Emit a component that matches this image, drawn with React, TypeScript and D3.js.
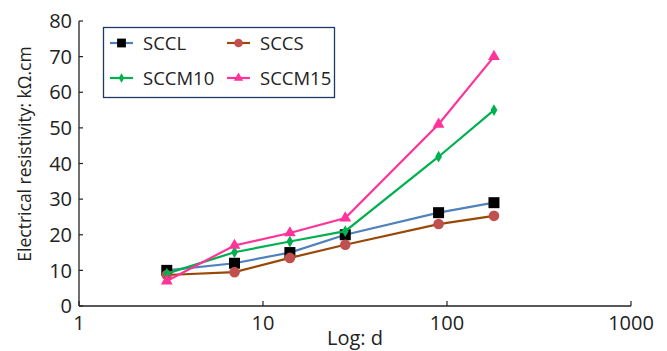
import React from "react";
import * as d3 from "d3";

const days = [3, 7, 14, 28, 90, 180];
const sccl = [10, 12, 15, 20, 26.2, 29];
const sccs = [8.7, 9.5, 13.5, 17.2, 23, 25.3];
const sccm10 = [9.1, 15.1, 18.1, 21, 41.9, 55];
const sccm15 = [7, 17, 20.5, 24.7, 51, 70];

const xTicks = [1, 10, 100, 1000];
const yTicks = [0, 10, 20, 30, 40, 50, 60, 70, 80];

type Marker = "square" | "circle" | "diamond" | "triangle";
const seriesList: { name: string; values: number[]; line: string; fill: string; marker: Marker }[] = [
  { name: "SCCL", values: sccl, line: "#4F81BD", fill: "#000000", marker: "square" },
  { name: "SCCS", values: sccs, line: "#984807", fill: "#C0504D", marker: "circle" },
  { name: "SCCM10", values: sccm10, line: "#00B050", fill: "#00B050", marker: "diamond" },
  { name: "SCCM15", values: sccm15, line: "#FF3399", fill: "#FF3399", marker: "triangle" },
];

const W = 667;
const H = 351;
const margin = { left: 79, right: 36, top: 21, bottom: 45 };
const FONT = "'Open Sans', 'Noto Sans', sans-serif";

const x = d3.scaleLog().domain([1, 1000]).range([margin.left, W - margin.right]);
const y = d3.scaleLinear().domain([0, 80]).range([H - margin.bottom, margin.top]);

function MarkerShape({ kind, cx, cy, fill, small }: { kind: Marker; cx: number; cy: number; fill: string; small?: boolean }) {
  const k = small ? 0.8 : 1;
  if (kind === "square") {
    const s = 11 * k;
    return <rect x={cx - s / 2} y={cy - s / 2} width={s} height={s} fill={fill} />;
  }
  if (kind === "circle") return <circle cx={cx} cy={cy} r={5.3 * k} fill={fill} />;
  if (kind === "diamond") {
    const p = d3.symbol(d3.symbolDiamond, 40 * k * k)();
    return <path d={p || ""} transform={`translate(${cx},${cy})`} fill={fill} />;
  }
  const t = d3.symbol(d3.symbolTriangle, 60 * k * k)();
  return <path d={t || ""} transform={`translate(${cx},${cy})`} fill={fill} />;
}

export default function App() {
  const line = d3
    .line<number>()
    .x((_, i) => x(days[i]))
    .y((v) => y(v));
  const x0 = margin.left;
  const y0 = H - margin.bottom;

  const legendPos = [
    { lx: 110, ly: 43 },
    { lx: 227, ly: 43 },
    { lx: 110, ly: 78 },
    { lx: 227, ly: 78 },
  ];

  return (
    <svg
      width={W}
      height={H}
      style={{ position: "absolute", left: 0, top: 0, background: "#fff" }}
      fontFamily={FONT}
    >
      {/* axes */}
      <line x1={x0} x2={x0} y1={y(80)} y2={y0} stroke="#222" strokeWidth={1.3} />
      <line x1={x0} x2={x(1000)} y1={y0} y2={y0} stroke="#222" strokeWidth={1.3} />
      {yTicks.map((t) => (
        <g key={`y${t}`}>
          <line x1={x0} x2={x0 + 4} y1={y(t)} y2={y(t)} stroke="#222" strokeWidth={1.2} />
          <text x={x0 - 7} y={y(t)} dy="0.36em" textAnchor="end" fontSize={20} fill="#222">
            {t}
          </text>
        </g>
      ))}
      {xTicks.map((t) => (
        <g key={`x${t}`}>
          <line x1={x(t)} x2={x(t)} y1={y0} y2={y0 - 5} stroke="#222" strokeWidth={1.2} />
          <text x={x(t)} y={y0 + 24} textAnchor="middle" fontSize={20} fill="#222">
            {t}
          </text>
        </g>
      ))}
      <text x={355} y={345} textAnchor="middle" fontSize={20} fill="#222">
        Log: d
      </text>
      <text
        transform={`translate(31,${154}) rotate(-90)`}
        textAnchor="middle"
        fontSize={17.5}
        fill="#222"
      >
        Electrical resistivity: kΩ.cm
      </text>

      {/* series */}
      {seriesList.map((s) => (
        <g key={s.name}>
          <path d={line(s.values) || ""} fill="none" stroke={s.line} strokeWidth={2.2} />
          {s.values.map((v, i) => (
            <MarkerShape key={i} kind={s.marker} cx={x(days[i])} cy={y(v)} fill={s.fill} />
          ))}
        </g>
      ))}

      {/* legend */}
      <rect x={103.5} y={27.5} width={231} height={70} fill="#fff" stroke="#1F3864" strokeWidth={1.3} />
      {seriesList.map((s, i) => {
        const { lx, ly } = legendPos[i];
        return (
          <g key={`lg${s.name}`}>
            <line x1={lx} x2={lx + 23} y1={ly} y2={ly} stroke={s.line} strokeWidth={2.2} />
            <MarkerShape kind={s.marker} cx={lx + 11.5} cy={ly} fill={s.fill} small />
            <text x={lx + 33} y={ly} dy="0.36em" fontSize={18.5} fill="#222">
              {s.name}
            </text>
          </g>
        );
      })}
    </svg>
  );
}
